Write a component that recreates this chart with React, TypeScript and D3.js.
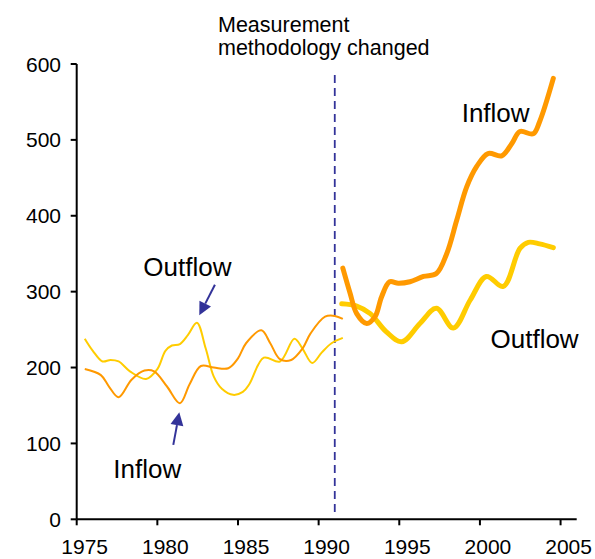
import React from "react";
import * as d3 from "d3";

// ---- data ----
const thinOutflowYears = [1975.5, 1976.0, 1976.6, 1977.1, 1977.6, 1978.3, 1979.3, 1980.0, 1980.5, 1980.9, 1981.4, 1981.9, 1982.45, 1983.0, 1983.5, 1984.0, 1984.7, 1985.3, 1985.7, 1986.6, 1987.6, 1988.5, 1989.0, 1989.6, 1990.2, 1990.8, 1991.5];
const thinOutflowValues = [238, 222, 208, 210, 208, 195, 185, 198, 222, 229, 231, 243, 259, 225, 188, 172, 164, 168, 178, 213, 208, 238, 225, 206, 220, 232, 239];

const thinInflowYears = [1975.5, 1976.5, 1977.0, 1977.6, 1978.4, 1979.2, 1979.8, 1980.6, 1981.4, 1982.0, 1982.7, 1983.5, 1984.4, 1985.0, 1985.5, 1986.45, 1987.0, 1987.6, 1988.3, 1989.0, 1989.5, 1990.4, 1991.0, 1991.5];
const thinInflowValues = [198, 190, 175, 161, 184, 196, 195, 175, 153, 178, 202, 200, 199, 212, 232, 249, 232, 211, 210, 225, 245, 267, 268, 264];

const thickInflowYears = [1991.5, 1991.95, 1992.36, 1992.98, 1993.5, 1993.9, 1994.4, 1994.94, 1995.66, 1996.5, 1997.3, 1997.94, 1998.56, 1999.18, 1999.8, 2000.5, 2001.35, 2001.97, 2002.48, 2003.3, 2003.7, 2004.55];
const thickInflowValues = [331, 298, 271, 258, 267, 293, 313, 311, 313, 320, 324, 350, 394, 438, 465, 482, 479, 495, 511, 508, 524, 581];

const thickOutflowYears = [1991.43, 1992.36, 1993.2, 1994.2, 1995.15, 1996.28, 1997.3, 1998.35, 1999.4, 2000.4, 2001.45, 2002.48, 2003.0, 2003.7, 2004.55];
const thickOutflowValues = [284, 281, 271, 247, 234, 258, 278, 252, 289, 320, 307, 357, 365, 363, 358];

const xTicks = [1975, 1980, 1985, 1990, 1995, 2000, 2005];
const yTicks = [0, 100, 200, 300, 400, 500, 600];
const changeYear = 1991;

const W = 595;
const H = 559;
const FONT = "'Liberation Sans', Arial, sans-serif";
const INFLOW = "#FF9900";
const OUTFLOW = "#FFCC00";
const NAVY = "#333399";

const x = d3.scaleLinear().domain([1975, 2006]).range([76.7, 576.7]);
const y = d3.scaleLinear().domain([0, 600]).range([519.3, 64]);

const line = d3
  .line<[number, number]>()
  .x((d) => x(d[0]))
  .y((d) => y(d[1]))
  .curve(d3.curveCatmullRom.alpha(0.5));

const zip = (a: number[], b: number[]) => a.map((v, i) => [v, b[i]] as [number, number]);

function Arrow({ x1, y1, x2, y2 }: { x1: number; y1: number; x2: number; y2: number }) {
  const ang = Math.atan2(y2 - y1, x2 - x1);
  const len = 13;
  const half = 6.5;
  const bx = x2 - len * Math.cos(ang);
  const by = y2 - len * Math.sin(ang);
  const px = -Math.sin(ang) * half;
  const py = Math.cos(ang) * half;
  return (
    <g>
      <line x1={x1} y1={y1} x2={bx} y2={by} stroke={NAVY} strokeWidth={2} />
      <polygon points={`${x2},${y2} ${bx + px},${by + py} ${bx - px},${by - py}`} fill={NAVY} />
    </g>
  );
}

export default function App() {
  return (
    <svg width={W} height={H} style={{ position: "absolute", left: 0, top: 0, background: "#fff" }} fontFamily={FONT}>
      {/* dashed line */}
      <line x1={x(changeYear)} x2={x(changeYear)} y1={75} y2={517} stroke={NAVY} strokeWidth={1.8} strokeDasharray="8,5" />
      <text x={218} y={31.7} fontSize={21.5} fill="#000">Measurement</text>
      <text x={218} y={54.5} fontSize={21.5} fill="#000">methodology changed</text>

      {/* axes */}
      <line x1={x.range()[0]} x2={x.range()[1]} y1={y(0)} y2={y(0)} stroke="#000" strokeWidth={2} />
      <line x1={x.range()[0]} x2={x.range()[0]} y1={y(0)} y2={y(600)} stroke="#000" strokeWidth={2} />
      {yTicks.map((t) => (
        <g key={t}>
          <line x1={x.range()[0] - 6} x2={x.range()[0]} y1={y(t)} y2={y(t)} stroke="#000" strokeWidth={2} />
          <text x={61} y={y(t)} dy="0.36em" textAnchor="end" fontSize={21}>{t}</text>
        </g>
      ))}
      {xTicks.map((t) => (
        <g key={t}>
          <line x1={x(t)} x2={x(t)} y1={y(0)} y2={y(0) + 6} stroke="#000" strokeWidth={2} />
          <text x={x(t) + 8} y={554} textAnchor="middle" fontSize={21}>{t}</text>
        </g>
      ))}

      {/* lines */}
      <path d={line(zip(thinOutflowYears, thinOutflowValues)) || ""} fill="none" stroke={OUTFLOW} strokeWidth={2} />
      <path d={line(zip(thinInflowYears, thinInflowValues)) || ""} fill="none" stroke={INFLOW} strokeWidth={2} />
      <path d={line(zip(thickOutflowYears, thickOutflowValues)) || ""} fill="none" stroke={OUTFLOW} strokeWidth={5} strokeLinecap="round" strokeLinejoin="round" />
      <path d={line(zip(thickInflowYears, thickInflowValues)) || ""} fill="none" stroke={INFLOW} strokeWidth={5} strokeLinecap="round" strokeLinejoin="round" />

      {/* annotations */}
      <Arrow x1={x(1983.57)} y1={y(309)} x2={x(1982.6)} y2={y(269)} />
      <Arrow x1={x(1980.99)} y1={y(98)} x2={x(1981.36)} y2={y(141)} />
      <text x={143.3} y={276} fontSize={26}>Outflow</text>
      <text x={113.3} y={478.3} fontSize={26}>Inflow</text>
      <text x={461.7} y={121.7} fontSize={26}>Inflow</text>
      <text x={490.5} y={348.3} fontSize={26}>Outflow</text>
    </svg>
  );
}
